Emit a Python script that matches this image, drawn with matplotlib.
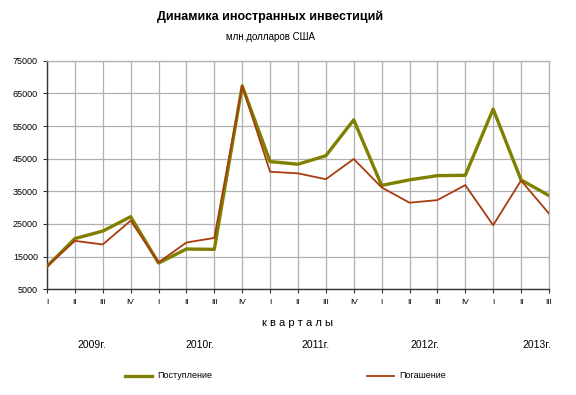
import numpy as np
import matplotlib
matplotlib.use("Agg")
import matplotlib.pyplot as plt

quarters = ["I", "II", "III", "IV"] * 4 + ["I", "II", "III"]
years = ["2009г.", "2010г.", "2011г.", "2012г.", "2013г."]
inflow = [12000, 20500, 22800, 27200, 13000, 17300, 17200, 67300, 44100, 43300,
          45900, 56900, 36800, 38500, 39800, 39900, 60200, 38500, 33700]
repay = [12000, 19800, 18700, 26000, 13200, 19300, 20700, 67300, 41000, 40500,
         38700, 44900, 36200, 31500, 32300, 36900, 24600, 38300, 28200]
yticks = list(range(5000, 75001, 10000))

plt.rcParams['font.family'] = ['Liberation Sans', 'DejaVu Sans']

fig = plt.figure(figsize=(5.76, 3.95), dpi=100)
ax = fig.add_axes([0.0816, 0.268, 0.8714, 0.578])

x = np.arange(len(quarters))
ax.plot(x, inflow, color='#808000', lw=2.4, zorder=3)
ax.plot(x, repay, color='#A83C0C', lw=1.3, zorder=4)

ax.set_xlim(0, len(quarters) - 1)
ax.set_ylim(5000, 75000)
ax.set_yticks(yticks)
ax.set_yticklabels([str(v) for v in yticks], fontsize=6.5)
ax.set_xticks(x)
ax.set_xticklabels(quarters, fontsize=6)
ax.tick_params(axis='both', length=3, width=0.8, color='#333333')
ax.tick_params(axis='x', pad=4)
ax.grid(True, color='#b0b0b0', lw=0.9)
ax.set_axisbelow(True)
for s in ['top', 'right']:
    ax.spines[s].set_color('#b0b0b0')
    ax.spines[s].set_linewidth(0.9)
for s in ['left', 'bottom']:
    ax.spines[s].set_color('#333333')
    ax.spines[s].set_linewidth(1.0)

fig.text(0.469, 0.957, "Динамика иностранных инвестиций", ha='center', va='center',
         fontsize=9, fontweight='bold', family=['Liberation Sans Narrow', 'Liberation Sans'])
fig.text(0.469, 0.906, "млн.долларов США", ha='center', va='center', fontsize=7)
fig.text(0.517, 0.182, "к в а р т а л ы", ha='center', va='center', fontsize=8)

year_x = [92, 200, 315, 425, 537]
for yx, yl in zip(year_x, years):
    fig.text(yx / 576, 1 - 345 / 395, yl, ha='center', va='center', fontsize=7.5)

lx = fig.add_axes([0, 0, 1, 1], facecolor='none')
lx.set_xlim(0, 576)
lx.set_ylim(395, 0)
lx.axis('off')
lx.plot([125, 152], [376, 376], color='#808000', lw=2.4)
lx.text(157, 376, "Поступление", va='center', fontsize=6.5)
lx.plot([367, 394], [376, 376], color='#A83C0C', lw=1.3)
lx.text(399, 376, "Погашение", va='center', fontsize=6.5)

fig.savefig("out.png", dpi=100)
